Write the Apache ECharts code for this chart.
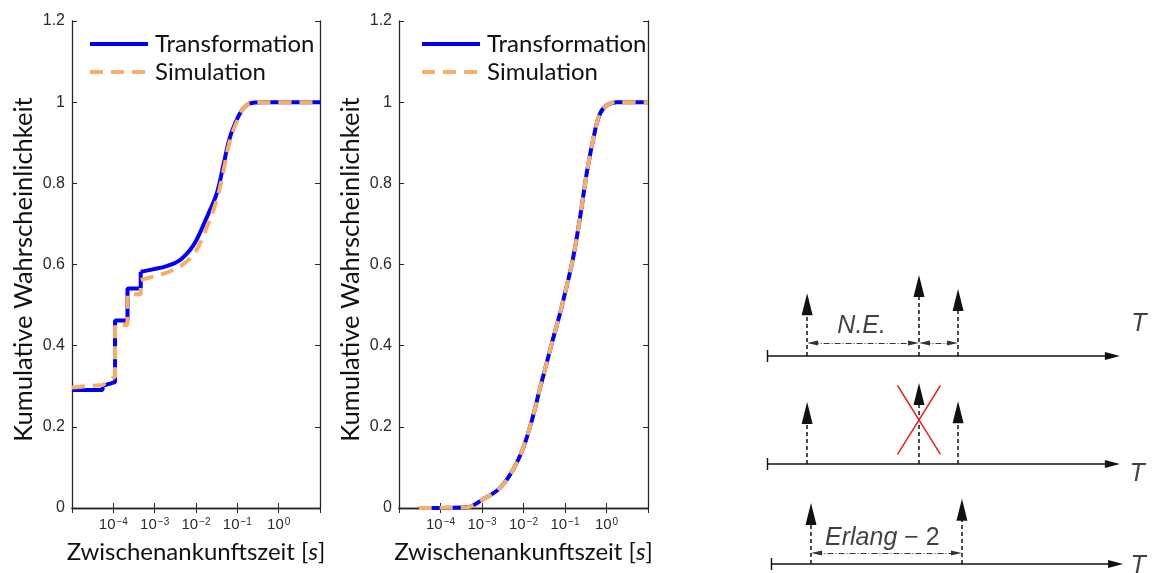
<!DOCTYPE html>
<html><head><meta charset="utf-8">
<script src="https://cdn.jsdelivr.net/npm/echarts@6/dist/echarts.min.js"></script>
<style>html,body{margin:0;padding:0;background:#fff}#c{width:1154px;height:573px}</style>
</head><body><div id="c"></div>
<script>
// ---------------- data ----------------
const seriesNames = ['Transformation', 'Simulation'];
const xLabelExponents = [-4, -3, -2, -1, 0];
const yTickValues = [0, 0.2, 0.4, 0.6, 0.8, 1, 1.2];
const xAxisTitle = 'Zwischenankunftszeit [{i|s}]';
const yAxisTitle = 'Kumulative Wahrscheinlichkeit';

// left panel: step part (discrete jumps) and smooth part
const p1TransStepX = [1e-5, 5.5e-5, 5.5e-5, 1.1e-4, 1.1e-4, 2.2e-4, 2.2e-4, 4.6e-4, 4.6e-4];
const p1TransStepY = [0.291, 0.291, 0.301, 0.31, 0.462, 0.462, 0.541, 0.541, 0.582];
const p1TransCurveX = [4.6e-4, 9e-4, 1.95e-3, 4.1e-3, 7.2e-3, 1e-2, 1.8e-2, 3.2e-2, 4.6e-2, 6.6e-2, 9.6e-2, 0.14, 0.2, 0.4, 10];
const p1TransCurveY = [0.582, 0.588, 0.596, 0.611, 0.636, 0.658, 0.715, 0.776, 0.845, 0.913, 0.956, 0.985, 0.997, 1.0, 1.0];
const p1SimStepX = [1e-5, 5.5e-5, 1.1e-4, 1.1e-4, 2.2e-4, 2.2e-4, 4.6e-4, 4.6e-4];
const p1SimStepY = [0.297, 0.303, 0.324, 0.451, 0.451, 0.527, 0.527, 0.562];
const p1SimCurveX = [4.6e-4, 9e-4, 1.95e-3, 4.1e-3, 7.2e-3, 1e-2, 1.8e-2, 3.2e-2, 4.6e-2, 6.6e-2, 9.6e-2, 0.14, 0.2, 0.4, 10];
const p1SimCurveY = [0.562, 0.570, 0.580, 0.595, 0.615, 0.633, 0.690, 0.760, 0.830, 0.905, 0.950, 0.985, 0.997, 1.0, 1.0];

// middle panel
const p2TransX = [3e-5, 4.4e-4, 1e-3, 2.7e-3, 5.6e-3, 1e-2, 1.6e-2, 2.5e-2, 5.1e-2, 7.6e-2, 0.112, 0.156, 0.23, 0.34, 0.53, 0.70, 1.03, 1.8, 10];
const p2TransY = [0, 0.002, 0.02, 0.049, 0.094, 0.15, 0.217, 0.295, 0.415, 0.48, 0.55, 0.615, 0.715, 0.83, 0.93, 0.972, 0.993, 1.0, 1.0];
const p2SimX = [3e-5, 4.4e-4, 1e-3, 2.7e-3, 5.6e-3, 1e-2, 1.6e-2, 2.5e-2, 5.1e-2, 7.6e-2, 0.112, 0.156, 0.23, 0.34, 0.53, 0.70, 1.03, 1.8, 10];
const p2SimY = [0, 0.002, 0.02, 0.049, 0.094, 0.15, 0.217, 0.295, 0.415, 0.48, 0.55, 0.615, 0.715, 0.83, 0.93, 0.972, 0.993, 1.0, 1.0];

// schematic (time-line diagram), in diagram units
const rowLevels = [6.93, 3.48, 0.29];
const rowStarts = [0, 0, 0.11];
const rowEnds = [10.03, 10.03, 10.12];
const arrivalTimes = [[1.14, 4.32, 5.43], [1.14, 4.32, 5.43], [1.25, 5.54]];
const arrivalHeights = [[2.01, 2.59, 2.14], [1.98, 2.59, 2.01], [1.95, 2.08]];
const intervalFrom = [1.14, 4.32, 1.25];
const intervalTo = [4.32, 5.43, 5.54];
const intervalLevels = [7.35, 7.35, 0.64];
const crossCenter = [4.32, 4.89];
const crossHalf = [0.61, 1.10];
const diagramTexts = ['N.E.', '{i|Erlang} − 2', 'T', 'T', 'T'];
const diagramTextX = [2.69, 3.28, 10.57, 10.52, 10.55];
const diagramTextY = [7.88, 1.12, 7.96, 3.16, 0.22];

// ---------------- styles ----------------
const AX = '#262626';
const TICK_FONT = 'Liberation Sans';
const NAME_FONT = 'Lato';
const BLUE = '#0000f5';
const ORANGE = '#f7ae6a';
const DGRID = {left: 767, top: 260, width: 387, height: 313};
const XMAX = 11, YMAX = 10;
const PXU_X = DGRID.width / XMAX, PXU_Y = DGRID.height / YMAX;

const zip = (a, b) => a.map((v, i) => [v, b[i]]);

function logLabel(v) {
  const e = Math.round(Math.log10(v));
  if (xLabelExponents.indexOf(e) < 0) return '';
  return '{b|10}{s|' + (e < 0 ? '−' : '') + Math.abs(e) + '}';
}

const grids = [
  {left: 72, top: 21, width: 248, height: 487},
  {left: 399, top: 21, width: 249, height: 487},
  DGRID
];

const xAxes = [], yAxes = [];
[0, 1].forEach(g => {
  const common = {
    gridIndex: g, type: 'log', logBase: 10, min: 1e-5, max: 10, interval: 1,
    axisLine: {show: true, lineStyle: {color: AX, width: 1.3}},
    axisTick: {show: true, inside: true, length: 5, lineStyle: {color: AX, width: 1}},
    minorTick: {show: false}, splitLine: {show: false}
  };
  xAxes.push(Object.assign({}, common, {
    position: 'bottom',
    name: xAxisTitle, nameLocation: 'middle', nameGap: 30,
    nameTextStyle: {fontFamily: NAME_FONT, fontSize: 24, color: '#111',
      rich: {i: {fontFamily: NAME_FONT, fontSize: 24, fontStyle: 'italic', color: '#111'}}},
    axisLabel: {show: true, margin: 9, formatter: logLabel, showMinLabel: true, showMaxLabel: true,
      rich: {
        b: {fontFamily: TICK_FONT, fontSize: 15, color: '#2a2a2a', lineHeight: 15, verticalAlign: 'bottom'},
        s: {fontFamily: TICK_FONT, fontSize: 10, color: '#2a2a2a', lineHeight: 10, verticalAlign: 'top', padding: [0, 0, 8, 1]}
      }}
  }));
  xAxes.push(Object.assign({}, common, {position: 'top', axisLabel: {show: false}}));
  const ycommon = {
    gridIndex: g, type: 'value', min: 0, max: 1.2, interval: 0.2,
    axisLine: {show: true, lineStyle: {color: AX, width: 1.3}},
    axisTick: {show: true, inside: true, length: 5, lineStyle: {color: AX, width: 1}},
    splitLine: {show: false}
  };
  yAxes.push(Object.assign({}, ycommon, {
    position: 'left',
    name: yAxisTitle, nameLocation: 'middle', nameGap: 35,
    nameTextStyle: {fontFamily: NAME_FONT, fontSize: 25.5, color: '#111', padding: [0, 10, 0, 0]},
    axisLabel: {show: true, margin: 7, fontFamily: TICK_FONT, fontSize: 16, color: '#2a2a2a',
      formatter: v => yTickValues.indexOf(+v.toFixed(1)) >= 0 ? String(+v.toFixed(1)) : ''}
  }));
  yAxes.push(Object.assign({}, ycommon, {position: 'right', axisLabel: {show: false}}));
});
xAxes.push({gridIndex: 2, type: 'value', min: 0, max: XMAX, show: false});
yAxes.push({gridIndex: 2, type: 'value', min: 0, max: YMAX, show: false});

const blueStyle = {color: BLUE, width: 4};
const orangeStyle = {color: ORANGE, width: 4, type: [13, 8]};
const series = [
  {type: 'line', name: seriesNames[0], xAxisIndex: 0, yAxisIndex: 0, data: zip(p1TransStepX, p1TransStepY),
   symbol: 'none', lineStyle: blueStyle, itemStyle: {color: BLUE}, z: 2},
  {type: 'line', name: seriesNames[0], xAxisIndex: 0, yAxisIndex: 0, data: zip(p1TransCurveX, p1TransCurveY),
   symbol: 'none', smooth: 0.35, lineStyle: blueStyle, itemStyle: {color: BLUE}, z: 2},
  {type: 'line', name: seriesNames[1], xAxisIndex: 0, yAxisIndex: 0, data: zip(p1SimStepX, p1SimStepY),
   symbol: 'none', lineStyle: orangeStyle, itemStyle: {color: ORANGE}, z: 3},
  {type: 'line', name: seriesNames[1], xAxisIndex: 0, yAxisIndex: 0, data: zip(p1SimCurveX, p1SimCurveY),
   symbol: 'none', smooth: 0.35, lineStyle: orangeStyle, itemStyle: {color: ORANGE}, z: 3},
  {type: 'line', name: seriesNames[0], xAxisIndex: 2, yAxisIndex: 2, data: zip(p2TransX, p2TransY),
   symbol: 'none', smooth: 0.35, lineStyle: blueStyle, itemStyle: {color: BLUE}, z: 2},
  {type: 'line', name: seriesNames[1], xAxisIndex: 2, yAxisIndex: 2, data: zip(p2SimX, p2SimY),
   symbol: 'none', smooth: 0.35, lineStyle: orangeStyle, itemStyle: {color: ORANGE}, z: 3}
];

// ----- schematic -----
const DK = '#111';
const timelineData = rowLevels.map((lv, r) => ({coords: [[rowStarts[r], lv], [rowEnds[r] - 7.5 / PXU_X, lv]]}));
const startTickData = rowLevels.map((lv, r) => ({coords: [[rowStarts[r], lv - 6 / PXU_Y], [rowStarts[r], lv + 6 / PXU_Y]]}));
const arrivalData = [];
arrivalTimes.forEach((row, r) => row.forEach((t, k) => {
  arrivalData.push({coords: [[t, rowLevels[r]], [t, rowLevels[r] + arrivalHeights[r][k] - 11 / PXU_Y]]});
}));
const intervalData = intervalFrom.map((a, i) => ({coords: [[a + 5.5 / PXU_X, intervalLevels[i]], [intervalTo[i] - 5.5 / PXU_X, intervalLevels[i]]]}));
const crossData = [
  {coords: [[crossCenter[0] - crossHalf[0], crossCenter[1] + crossHalf[1]], [crossCenter[0] + crossHalf[0], crossCenter[1] - crossHalf[1]]]},
  {coords: [[crossCenter[0] + crossHalf[0], crossCenter[1] + crossHalf[1]], [crossCenter[0] - crossHalf[0], crossCenter[1] - crossHalf[1]]]}
];
const dBase = {type: 'lines', coordinateSystem: 'cartesian2d', xAxisIndex: 4, yAxisIndex: 4, silent: true, animation: false};
series.push(Object.assign({}, dBase, {data: timelineData, symbol: ['none', 'triangle'], symbolSize: [0, [8, 15]],
  lineStyle: {color: DK, width: 1.6, opacity: 1}}));
series.push(Object.assign({}, dBase, {data: startTickData, symbol: ['none', 'none'],
  lineStyle: {color: DK, width: 1.4, opacity: 1}}));
series.push(Object.assign({}, dBase, {data: arrivalData, symbol: ['none', 'triangle'], symbolSize: [0, [11, 22]],
  lineStyle: {color: DK, width: 1.5, type: [4, 3], opacity: 1}}));
series.push(Object.assign({}, dBase, {data: intervalData, symbol: ['triangle', 'triangle'], symbolSize: [[5, 11], [5, 11]],
  lineStyle: {color: '#333', width: 1, type: [6, 2, 1, 2], opacity: 1}}));
series.push(Object.assign({}, dBase, {data: crossData, symbol: ['none', 'none'],
  lineStyle: {color: '#e02424', width: 1.5, opacity: 1}, z: 5}));
series.push({type: 'scatter', xAxisIndex: 4, yAxisIndex: 4, symbolSize: 0, silent: true, animation: false,
  data: diagramTexts.map((t, i) => ({name: t, value: [diagramTextX[i], diagramTextY[i]]})),
  label: {show: true, position: 'inside', formatter: p => p.name, fontFamily: 'Liberation Sans', fontSize: 25,
    fontStyle: 'italic', color: DK,
    rich: {i: {fontFamily: 'Liberation Sans', fontSize: 25, fontStyle: 'italic', color: DK}}}});
series[series.length - 1].data[1].label = {fontStyle: 'normal'};

const legendCommon = {
  orient: 'vertical', padding: 0, itemWidth: 58, itemHeight: 14, itemGap: 4, data: seriesNames,
  textStyle: {fontFamily: NAME_FONT, fontSize: 24, color: '#111', padding: [0, 0, 0, 2]},
  lineStyle: {width: 4}, itemStyle: {opacity: 0}, selectedMode: false
};

const option = {
  backgroundColor: '#fff',
  animation: false,
  grid: grids,
  xAxis: xAxes,
  yAxis: yAxes,
  legend: [
    Object.assign({}, legendCommon, {left: 88, top: 32}),
    Object.assign({}, legendCommon, {left: 420, top: 32})
  ],
  series: series
};
const chart = echarts.init(document.getElementById('c'));
chart.setOption(option);
</script>
</body></html>
